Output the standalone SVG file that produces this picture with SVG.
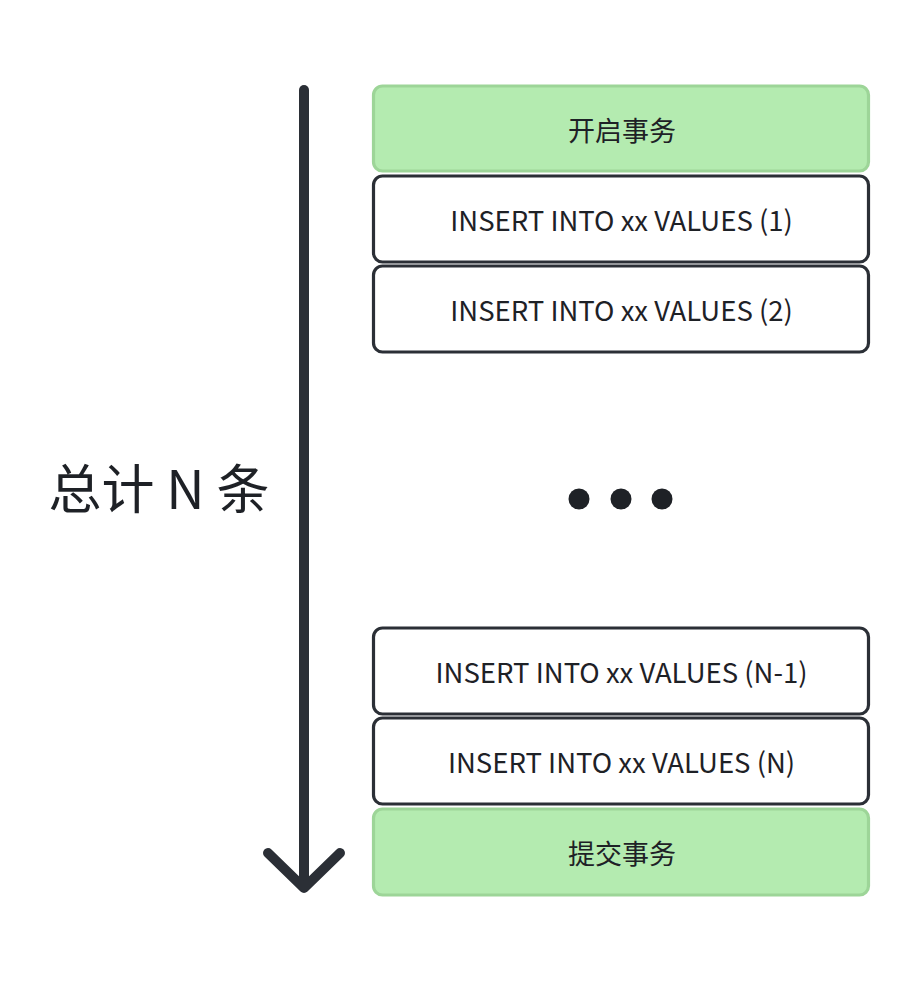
<svg xmlns="http://www.w3.org/2000/svg" width="920" height="992" viewBox="0 0 920 992">
<style>
.box{fill:#ffffff;stroke:#2b2f36;stroke-width:3.2}
.g{fill:#b4ebb0;stroke:#9dd598;stroke-width:3.2}
.t{font-family:"Noto Sans CJK SC","Noto Sans",sans-serif;font-size:27.5px;fill:#1e2126;text-anchor:middle;dominant-baseline:central}
.c{font-size:27px}
.ln{fill:none;stroke:#2b2f36;stroke-width:10;stroke-linecap:round;stroke-linejoin:round}
</style>
<rect width="920" height="992" fill="#ffffff"/>
<g id="connectors">
<path class="ln" d="M304 90 V886"/>
<path class="ln" d="M268 853 L304 888 L340 853"/>
</g>
<g id="label-total">
<text x="159" y="486" class="t" style="font-size:53px">总计 N 条</text>
</g>
<g id="node-begin">
<rect class="g" x="373.5" y="86" width="495" height="85" rx="9"/>
<text class="t c" x="622" y="129">开启事务</text>
</g>
<g id="node-insert-1">
<rect class="box" x="373.5" y="176" width="495" height="86" rx="9"/>
<text class="t" x="621.5" y="219">INSERT INTO xx VALUES (1)</text>
</g>
<g id="node-insert-2">
<rect class="box" x="373.5" y="266" width="495" height="86" rx="9"/>
<text class="t" x="621.5" y="309">INSERT INTO xx VALUES (2)</text>
</g>
<g id="ellipsis" fill="#1e2126">
<circle cx="579" cy="499" r="10.5"/>
<circle cx="621" cy="499" r="10.5"/>
<circle cx="662" cy="499" r="10.5"/>
</g>
<g id="node-insert-n1">
<rect class="box" x="373.5" y="628" width="495" height="86" rx="9"/>
<text class="t" x="621.5" y="671">INSERT INTO xx VALUES (N-1)</text>
</g>
<g id="node-insert-n">
<rect class="box" x="373.5" y="718" width="495" height="86" rx="9"/>
<text class="t" x="621.5" y="761">INSERT INTO xx VALUES (N)</text>
</g>
<g id="node-commit">
<rect class="g" x="373.5" y="809" width="495" height="86" rx="9"/>
<text class="t c" x="622" y="852">提交事务</text>
</g>
</svg>
